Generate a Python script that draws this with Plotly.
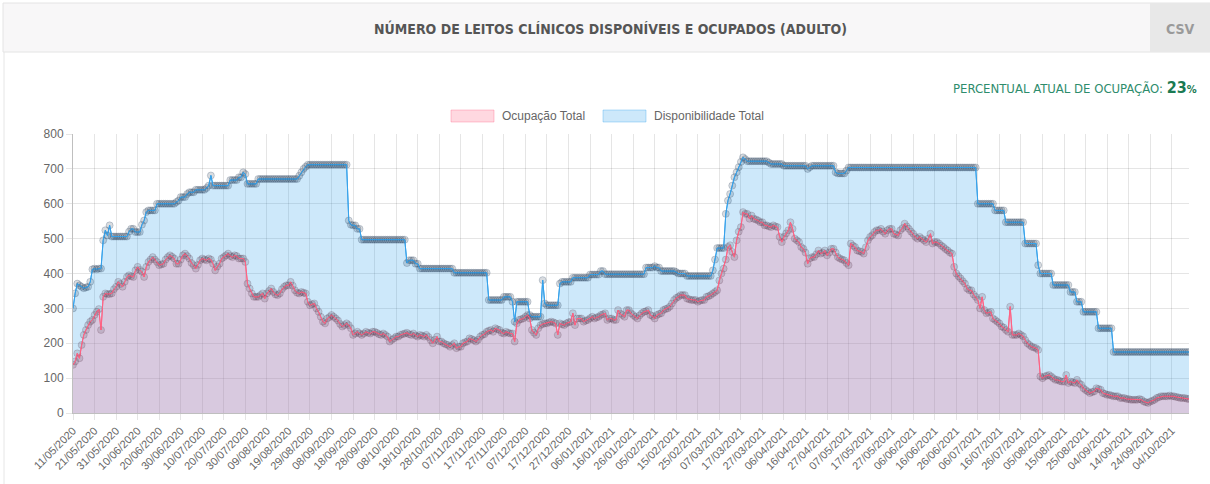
import pandas as pd
import plotly.graph_objects as go

# ---- categories (daily, one date missing in the source: 21/04/2021) ----
_dates = pd.date_range("2020-05-11", "2021-10-12", freq="D")
_dates = _dates[_dates != pd.Timestamp("2021-04-21")]
categories = [d.strftime("%d/%m/%Y") for d in _dates]
tick_labels = categories[::10]

disponibilidade = [
    300, 343, 371, 366, 362, 358, 360, 362, 376, 412,
    414, 412, 414, 414, 495, 524, 509, 538, 506, 506,
    506, 506, 506, 506, 506, 506, 520, 528, 528, 519,
    519, 519, 540, 552, 576, 581, 581, 581, 581, 600,
    600, 600, 600, 600, 600, 600, 600, 600, 605, 609,
    619, 619, 619, 628, 633, 633, 633, 640, 640, 640,
    640, 640, 645, 652, 681, 652, 652, 652, 652, 652,
    652, 652, 652, 668, 668, 668, 668, 676, 676, 690,
    685, 657, 657, 657, 657, 657, 671, 671, 671, 671,
    671, 671, 671, 671, 671, 671, 671, 671, 671, 671,
    671, 671, 671, 671, 671, 680, 690, 700, 706, 712,
    712, 712, 712, 712, 712, 712, 712, 712, 712, 712,
    712, 712, 712, 712, 712, 712, 712, 712, 552, 540,
    538, 538, 528, 528, 497, 497, 497, 497, 497, 497,
    497, 497, 497, 497, 497, 497, 497, 497, 497, 497,
    497, 497, 497, 497, 497, 430, 438, 438, 438, 428,
    428, 414, 414, 414, 414, 414, 414, 414, 414, 414,
    414, 414, 414, 414, 414, 414, 414, 402, 402, 402,
    402, 402, 402, 402, 402, 402, 402, 402, 402, 402,
    402, 402, 402, 324, 324, 324, 324, 324, 324, 324,
    333, 333, 333, 333, 319, 262, 319, 319, 319, 319,
    319, 319, 281, 276, 276, 276, 276, 276, 381, 314,
    309, 309, 309, 309, 309, 309, 371, 376, 376, 376,
    376, 376, 388, 388, 388, 388, 388, 388, 388, 388,
    397, 397, 397, 397, 397, 407, 407, 398, 398, 398,
    398, 398, 398, 398, 398, 398, 398, 398, 398, 398,
    398, 398, 398, 398, 398, 398, 417, 417, 417, 417,
    421, 417, 417, 407, 407, 407, 407, 407, 407, 407,
    404, 400, 400, 400, 400, 393, 393, 393, 393, 393,
    393, 393, 393, 393, 393, 393, 393, 409, 440, 473,
    473, 473, 473, 571, 609, 628, 652, 676, 690, 705,
    720, 733, 728, 722, 722, 722, 722, 722, 722, 722,
    722, 722, 722, 718, 714, 714, 714, 714, 714, 714,
    709, 709, 709, 709, 709, 709, 709, 709, 709, 709,
    709, 700, 705, 709, 709, 709, 709, 709, 709, 709,
    709, 709, 709, 709, 690, 687, 687, 687, 687, 695,
    704, 704, 704, 704, 704, 704, 704, 704, 704, 704,
    704, 704, 704, 704, 704, 704, 704, 704, 704, 704,
    704, 704, 704, 704, 704, 704, 704, 704, 704, 704,
    704, 704, 704, 704, 704, 704, 704, 704, 704, 704,
    704, 704, 704, 704, 704, 704, 704, 704, 704, 704,
    704, 704, 704, 704, 704, 704, 704, 704, 704, 704,
    600, 600, 600, 600, 600, 600, 600, 600, 581, 581,
    581, 581, 581, 547, 547, 547, 547, 547, 547, 547,
    547, 547, 486, 486, 486, 486, 486, 486, 424, 400,
    400, 400, 400, 400, 400, 367, 367, 367, 367, 367,
    367, 367, 367, 347, 347, 347, 319, 319, 319, 290,
    290, 290, 290, 290, 290, 290, 243, 243, 243, 243,
    243, 243, 243, 175, 175, 175, 175, 175, 175, 175,
    175, 175, 175, 175, 175, 175, 175, 175, 175, 175,
    175, 175, 175, 175, 175, 175, 175, 175, 175, 175,
    175, 175, 175, 175, 175, 175, 175, 175, 175,
]

ocupacao = [
    138, 148, 171, 157, 195, 224, 238, 252, 262, 267,
    281, 290, 298, 238, 333, 343, 341, 341, 343, 355,
    362, 376, 370, 362, 376, 390, 395, 392, 390, 409,
    419, 410, 405, 390, 419, 433, 440, 447, 440, 433,
    424, 426, 428, 440, 447, 452, 448, 443, 428, 428,
    440, 452, 457, 450, 443, 430, 424, 414, 425, 438,
    443, 440, 438, 443, 440, 428, 409, 420, 428, 443,
    447, 452, 457, 450, 447, 452, 450, 443, 443, 443,
    433, 371, 357, 343, 333, 333, 333, 338, 343, 328,
    343, 350, 357, 347, 340, 338, 343, 355, 362, 366,
    366, 376, 365, 352, 345, 343, 347, 345, 343, 319,
    309, 312, 314, 300, 290, 276, 262, 257, 271, 275,
    281, 276, 271, 265, 255, 248, 252, 257, 252, 243,
    224, 228, 233, 228, 224, 228, 233, 230, 228, 233,
    233, 230, 226, 224, 228, 224, 219, 205, 210, 214,
    219, 219, 224, 226, 228, 230, 226, 224, 228, 222,
    219, 224, 222, 219, 224, 218, 209, 200, 210, 219,
    205, 205, 200, 197, 195, 190, 195, 200, 186, 190,
    190, 200, 203, 205, 214, 212, 209, 205, 210, 219,
    224, 226, 233, 236, 238, 233, 243, 240, 238, 230,
    228, 233, 230, 228, 228, 205, 257, 267, 269, 271,
    276, 281, 271, 238, 230, 224, 243, 252, 255, 257,
    257, 260, 262, 260, 257, 224, 257, 254, 252, 257,
    260, 262, 286, 252, 271, 271, 271, 262, 265, 267,
    272, 276, 271, 274, 276, 281, 283, 286, 267, 271,
    271, 267, 267, 295, 285, 281, 276, 295, 295, 286,
    281, 276, 271, 280, 286, 290, 292, 295, 281, 278,
    271, 281, 284, 286, 295, 298, 300, 305, 314, 324,
    330, 333, 338, 338, 338, 328, 326, 324, 324, 324,
    319, 322, 324, 324, 333, 335, 338, 343, 347, 352,
    380, 400, 414, 440, 476, 481, 462, 447, 495, 520,
    533, 576, 571, 571, 557, 566, 557, 555, 552, 547,
    547, 538, 538, 535, 533, 538, 535, 533, 505, 490,
    505, 515, 524, 547, 528, 500, 495, 490, 476, 471,
    460, 428, 443, 447, 447, 455, 466, 457, 460, 466,
    452, 460, 471, 471, 460, 447, 443, 440, 438, 430,
    424, 486, 480, 476, 466, 464, 462, 457, 475, 495,
    505, 510, 519, 524, 524, 528, 520, 514, 524, 528,
    528, 514, 512, 509, 524, 530, 543, 535, 528, 520,
    514, 505, 500, 505, 500, 495, 490, 500, 514, 486,
    490, 490, 486, 480, 476, 470, 466, 460, 457, 419,
    400, 392, 386, 378, 371, 357, 352, 352, 340, 333,
    324, 300, 333, 295, 286, 288, 290, 271, 267, 262,
    257, 248, 245, 238, 233, 305, 224, 224, 224, 228,
    224, 220, 209, 200, 195, 190, 188, 186, 181, 105,
    100, 105, 107, 109, 105, 100, 95, 95, 92, 90,
    90, 109, 86, 90, 88, 86, 95, 85, 81, 71,
    66, 62, 57, 60, 62, 71, 69, 67, 57, 55,
    52, 52, 50, 48, 48, 48, 43, 43, 43, 40,
    40, 38, 38, 38, 38, 40, 38, 33, 31, 29,
    33, 35, 38, 43, 45, 48, 48, 48, 48, 50,
    48, 48, 46, 45, 43, 43, 43, 41, 40,
]

y_ticks = [0, 100, 200, 300, 400, 500, 600, 700, 800]
percent_atual = round(100 * ocupacao[-1] / disponibilidade[-1])

BLUE = "rgb(54,162,235)"
PINK = "rgb(255,99,132)"

# layout geometry (pixels)
W, H = 1210, 484
PL, PR, PT, PB = 73, 1189, 134, 413


def xp(px):
    return (px - PL) / (PR - PL)


def yp(py):
    return (PB - py) / (PB - PT)


fig = go.Figure()
fig.add_trace(go.Scatter(
    x=categories, y=disponibilidade, name="Disponibilidade Total",
    mode="lines+markers", fill="tozeroy", fillcolor="rgba(54,162,235,0.25)",
    line=dict(color=BLUE, width=1),
    marker=dict(size=7, color="rgba(30,50,70,0.17)",
                line=dict(color="rgba(30,60,90,0.22)", width=1)),
))
fig.add_trace(go.Scatter(
    x=categories, y=ocupacao, name="Ocupação Total",
    mode="lines+markers", fill="tozeroy", fillcolor="rgba(255,99,132,0.23)",
    line=dict(color=PINK, width=1),
    marker=dict(size=7, color="rgba(60,40,60,0.15)",
                line=dict(color="rgba(90,50,70,0.2)", width=1)),
))
# line drawn again on top so the coloured stroke shows through the dots
fig.add_trace(go.Scatter(x=categories, y=disponibilidade, mode="lines",
                         line=dict(color=BLUE, width=1), hoverinfo="skip"))
fig.add_trace(go.Scatter(x=categories, y=ocupacao, mode="lines",
                         line=dict(color=PINK, width=1), hoverinfo="skip"))

shapes = [
    # header bar
    dict(type="rect", xref="paper", yref="paper", x0=xp(3), x1=xp(1210), y0=yp(52), y1=yp(3),
         fillcolor="#f8f7f8", line=dict(color="#e4e4e4", width=1), layer="below"),
    dict(type="rect", xref="paper", yref="paper", x0=xp(1150), x1=xp(1210), y0=yp(52), y1=yp(3),
         fillcolor="#e8e8e8", line=dict(width=0), layer="below"),
    # card left border
    dict(type="line", xref="paper", yref="paper", x0=xp(4), x1=xp(4), y0=yp(52), y1=yp(484),
         line=dict(color="#e6e6e6", width=1), layer="below"),
    # legend boxes
    dict(type="rect", xref="paper", yref="paper", x0=xp(451), x1=xp(494), y0=yp(122), y1=yp(110),
         fillcolor="rgba(255,99,132,0.25)", line=dict(color="rgba(255,99,132,0.35)", width=1)),
    dict(type="rect", xref="paper", yref="paper", x0=xp(603), x1=xp(646), y0=yp(122), y1=yp(110),
         fillcolor="rgba(54,162,235,0.25)", line=dict(color="rgba(54,162,235,0.35)", width=1)),
]

annotations = [
    dict(xref="paper", yref="paper", x=xp(610), y=yp(29), xanchor="center", yanchor="middle",
         text="<b>NÚMERO DE LEITOS CLÍNICOS DISPONÍVEIS E OCUPADOS (ADULTO)</b>", showarrow=False,
         font=dict(family="Liberation Sans Narrow, DejaVu Sans Condensed, Roboto", size=14, color="#555555")),
    dict(xref="paper", yref="paper", x=xp(1180), y=yp(29), xanchor="center", yanchor="middle",
         text="<b>CSV</b>", showarrow=False,
         font=dict(family="Liberation Sans Narrow, DejaVu Sans Condensed, Roboto", size=14, color="#9a9a9a")),
    dict(xref="paper", yref="paper", x=xp(1199), y=yp(87), xanchor="right", yanchor="middle",
         text=("PERCENTUAL ATUAL DE OCUPAÇÃO: "
               f"<b><span style='font-size:16px;color:#1b7a52'>{percent_atual}</span>"
               "<span style='font-size:11px;color:#1b7a52'>%</span></b>"),
         showarrow=False,
         font=dict(family="Liberation Sans Narrow, DejaVu Sans Condensed, Roboto", size=13, color="#2e8c6c")),
    dict(xref="paper", yref="paper", x=xp(500), y=yp(116), xanchor="left", yanchor="middle",
         text="Ocupação Total", showarrow=False,
         font=dict(family="Liberation Sans, Arial", size=12, color="#666666")),
    dict(xref="paper", yref="paper", x=xp(652), y=yp(116), xanchor="left", yanchor="middle",
         text="Disponibilidade Total", showarrow=False,
         font=dict(family="Liberation Sans, Arial", size=12, color="#666666")),
]

fig.update_layout(
    width=W, height=H,
    margin=dict(l=PL, r=W - PR, t=PT, b=H - PB, pad=0),
    paper_bgcolor="white", plot_bgcolor="white",
    showlegend=False,
    shapes=shapes, annotations=annotations,
    font=dict(family="Liberation Sans, Arial", size=12, color="#666666"),
    xaxis=dict(
        type="category", range=[0, len(categories) - 1],
        tickmode="array", tickvals=tick_labels, ticktext=tick_labels,
        tickangle=-45, tickfont=dict(size=11, color="#666666"),
        showgrid=True, gridcolor="rgba(0,0,0,0.1)", gridwidth=1,
        ticks="outside", ticklen=6, tickcolor="rgba(0,0,0,0.1)",
        showline=True, linecolor="rgba(0,0,0,0.25)", linewidth=1,
        zeroline=False, fixedrange=True,
    ),
    yaxis=dict(
        range=[0, 800], tickmode="array", tickvals=y_ticks,
        tickfont=dict(size=12, color="#666666"),
        showgrid=True, gridcolor="rgba(0,0,0,0.1)", gridwidth=1,
        ticks="outside", ticklen=6, tickcolor="rgba(0,0,0,0.1)",
        showline=True, linecolor="rgba(0,0,0,0.25)", linewidth=1,
        zeroline=False, fixedrange=True,
    ),
)

fig.write_html("out.html", config={"displayModeBar": False},
               post_script="document.body.style.margin='0';")
